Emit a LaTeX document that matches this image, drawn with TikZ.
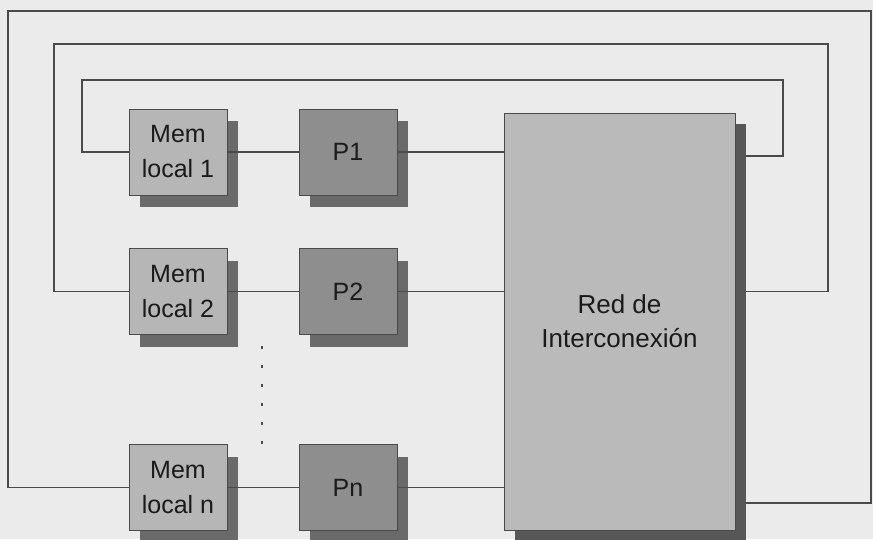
\documentclass[tikz,border=0pt]{standalone}
\usepackage{fontspec}
\setmainfont{Liberation Sans}
\usetikzlibrary{shadows}
\definecolor{bgc}{HTML}{EBEBEB}
\definecolor{memfill}{HTML}{B6B6B6}
\definecolor{pfill}{HTML}{8E8E8E}
\definecolor{redfill}{HTML}{BABABA}
\definecolor{shadc}{HTML}{6A6A6A}
\definecolor{redshad}{HTML}{575757}
\definecolor{wirec}{HTML}{4A4A4A}
\definecolor{txtc}{HTML}{1A1A1A}
\tikzset{
  boxbase/.style={draw=wirec, line width=0.9pt, inner sep=0pt, align=center, text=txtc,
    font=\fontsize{25}{35}\selectfont,
    drop shadow={shadow xshift=11pt, shadow yshift=-12pt, fill=shadc, opacity=1, draw=none}},
  membox/.style={boxbase, fill=memfill, minimum width=98pt, minimum height=86pt},
  pbox/.style={boxbase, fill=pfill, minimum width=98pt, minimum height=86pt},
  redbox/.style={boxbase, fill=redfill, minimum width=231pt, minimum height=417pt,
    font=\fontsize{26}{34}\selectfont,
    drop shadow={shadow xshift=11pt, shadow yshift=-11pt, fill=redshad, opacity=1, draw=none}},
  wire/.style={draw=wirec, line width=1.1pt},
  dotline/.style={draw=wirec, line width=1.3pt, dash pattern=on 3pt off 16pt}
}
\begin{document}
\begin{tikzpicture}[x=1pt, y=-1pt]
\useasboundingbox[fill=bgc] (0,0) rectangle (873,539);
% boxes
\node[membox] (mem1) at (178,152) {Mem\\local 1};
\node[membox] (mem2) at (178,291.5) {Mem\\local 2};
\node[membox] (memn) at (178,487.5) {Mem\\local n};
\node[pbox] (p1) at (348,152) {P1};
\node[pbox] (p2) at (348,291.5) {P2};
\node[pbox] (pn) at (348,487.5) {Pn};
\node[redbox] (red) at (619.5,321.5) {Red de\\Interconexión};
\coordinate (rs) at ([xshift=11pt]red.east);
% mem to processor
\draw[wire] (mem1.east) -- (p1.west);
\draw[wire] (mem2.east) -- (p2.west);
\draw[wire] (memn.east) -- (pn.west);
% processor to network
\draw[wire] (p1.east) -- (p1.east -| red.west);
\draw[wire] (p2.east) -- (p2.east -| red.west);
\draw[wire] (pn.east) -- (pn.east -| red.west);
% loops from memories back to network
\draw[wire] (mem1.west) -- (82,152) -- (82,80) -- (783,80) -- (783,156) -- (rs |- 0,156);
\draw[wire] (mem2.west) -- (54,291.5) -- (54,44) -- (828,44) -- (828,291.5) -- (rs |- 0,291.5);
\draw[wire] (memn.west) -- (8,487.5) -- (8,11) -- (871,11) -- (871,503) -- (rs |- 0,503);
% dots
\draw[dotline] (262,346) -- (262,446);
\end{tikzpicture}
\end{document}
